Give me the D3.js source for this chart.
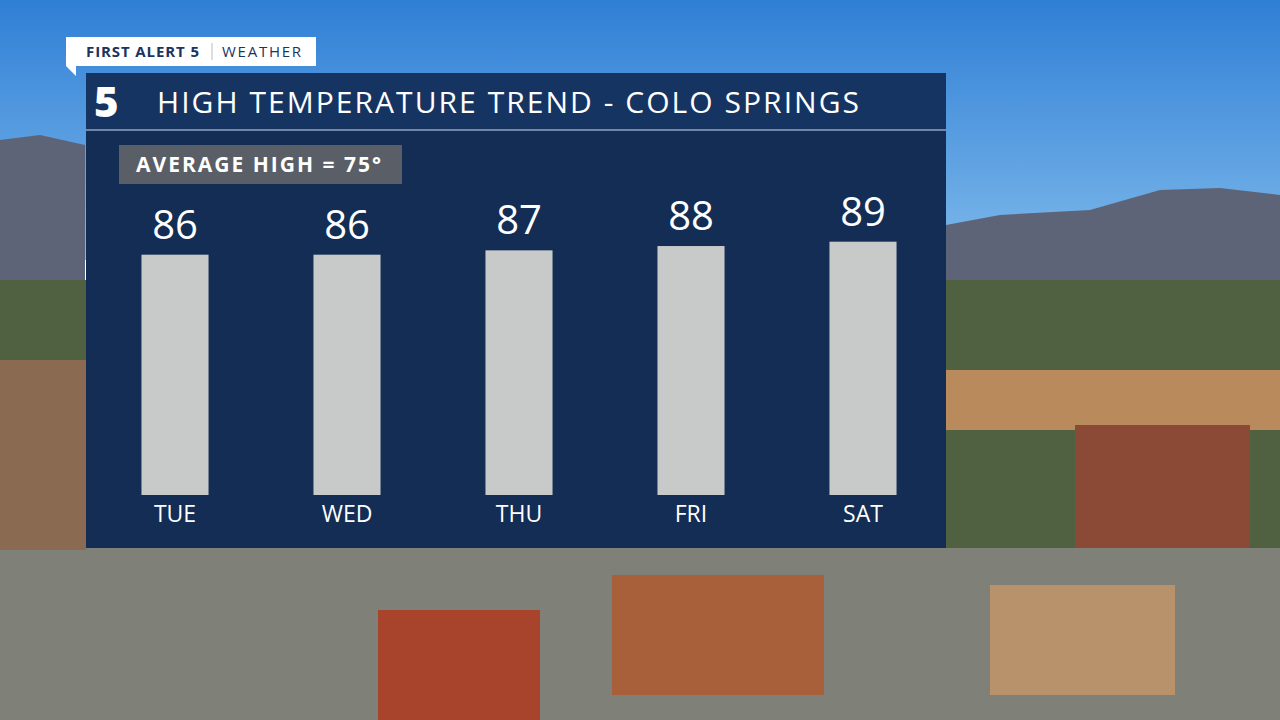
<!DOCTYPE html>
<html lang="en">
<head>
<meta charset="utf-8">
<title>High Temperature Trend</title>
<script src="https://d3js.org/d3.v7.min.js"></script>
<style>body{margin:0;overflow:hidden}text{font-family:"Open Sans",Roboto,sans-serif}</style>
</head>
<body>
<div id="canvas"></div>
<script>
const days = ["TUE", "WED", "THU", "FRI", "SAT"]
const highs = [86, 86, 87, 88, 89]
const avgHigh = 75

const width = 1280, height = 720
const svg = d3.select("#canvas").append("svg").attr("width", width).attr("height", height)
const defs = svg.append("defs")

// backdrop: sky, mountains, city
const sky = defs.append("linearGradient").attr("id", "sky").attr("x1", 0).attr("y1", 0).attr("x2", 0).attr("y2", 1)
sky.append("stop").attr("offset", 0).attr("stop-color", "#2f7fd6")
sky.append("stop").attr("offset", 1).attr("stop-color", "#7db8ea")
svg.append("rect").attr("width", width).attr("height", 260).attr("fill", "url(#sky)")
svg.append("path").attr("fill", "#5d6478")
  .attr("d", "M0,140 L40,135 L85,145 L85,290 L0,290Z M946,225 L1000,215 L1090,210 L1160,190 L1220,188 L1280,195 L1280,290 L946,290Z")
svg.append("rect").attr("y", 280).attr("width", width).attr("height", 440).attr("fill", "#4f6140")
svg.append("rect").attr("y", 370).attr("x", 946).attr("width", 334).attr("height", 60).attr("fill", "#b98a5c")
svg.append("rect").attr("x", 1075).attr("y", 425).attr("width", 175).attr("height", 155).attr("fill", "#8a4a35")
svg.append("rect").attr("y", 548).attr("width", width).attr("height", 172).attr("fill", "#7f8078")
svg.append("rect").attr("x", 612).attr("y", 575).attr("width", 212).attr("height", 120).attr("fill", "#a8603a")
svg.append("rect").attr("x", 378).attr("y", 610).attr("width", 162).attr("height", 110).attr("fill", "#a8442c")
svg.append("rect").attr("x", 990).attr("y", 585).attr("width", 185).attr("height", 110).attr("fill", "#b8926a")
svg.append("rect").attr("y", 360).attr("width", 86).attr("height", 190).attr("fill", "#8a6a50")

// panel
svg.append("rect").attr("x", 86).attr("y", 73).attr("width", 860).attr("height", 475).attr("fill", "#132d55")
svg.append("rect").attr("x", 86).attr("y", 73).attr("width", 860).attr("height", 57).attr("fill", "#163462")
svg.append("line").attr("x1", 86).attr("x2", 946).attr("y1", 130).attr("y2", 130)
  .attr("stroke", "#8fa5c6").attr("stroke-width", 1.5)

// tag
svg.append("path").attr("d", "M66,37 H316 V66 H76 L76,76 L66,66Z").attr("fill", "#fff")
svg.append("text").attr("x", 86).attr("y", 57).attr("font-size", 15).attr("font-weight", 700)
  .attr("fill", "#1c3360").attr("textLength", 113).text("FIRST ALERT 5")
svg.append("line").attr("x1", 212).attr("x2", 212).attr("y1", 43).attr("y2", 60).attr("stroke", "#bbb")
svg.append("text").attr("x", 222).attr("y", 57).attr("font-size", 15).attr("fill", "#1c3360")
  .attr("textLength", 79).text("WEATHER")

// title
svg.append("text").attr("x", 94).attr("y", 117).attr("font-size", 42).attr("font-weight", 800)
  .attr("fill", "#fff").text("5")
svg.append("text").attr("x", 157).attr("y", 113).attr("font-size", 30).attr("fill", "#fff")
  .attr("textLength", 702).text("HIGH TEMPERATURE TREND - COLO SPRINGS")

// average box
svg.append("rect").attr("x", 119).attr("y", 145).attr("width", 283).attr("height", 39).attr("fill", "#5a5e66")
svg.append("text").attr("x", 136).attr("y", 172).attr("font-size", 21).attr("font-weight", 700)
  .attr("fill", "#fff").attr("textLength", 245).text(`AVERAGE HIGH = ${avgHigh}°`)

const x = d3.scaleBand().domain(days).range([89, 949]).paddingInner(0.61).paddingOuter(0.305)
const y = d3.scaleLinear().domain([30.5, 89]).range([495, 241.7])

const g = svg.append("g")
g.selectAll("rect").data(days).join("rect")
  .attr("x", d => x(d)).attr("width", x.bandwidth())
  .attr("y", (d, i) => y(highs[i])).attr("height", (d, i) => 495 - y(highs[i]))
  .attr("fill", "#c8cac9")
g.selectAll(".val").data(days).join("text").attr("class", "val")
  .attr("x", d => x(d) + x.bandwidth() / 2).attr("y", (d, i) => y(highs[i]) - 16)
  .attr("text-anchor", "middle").attr("font-size", 40).attr("fill", "#fff")
  .text((d, i) => highs[i])
g.selectAll(".day").data(days).join("text").attr("class", "day")
  .attr("x", d => x(d) + x.bandwidth() / 2).attr("y", 522)
  .attr("text-anchor", "middle").attr("font-size", 23).attr("fill", "#fff").text(d => d)
</script>
</body>
</html>
